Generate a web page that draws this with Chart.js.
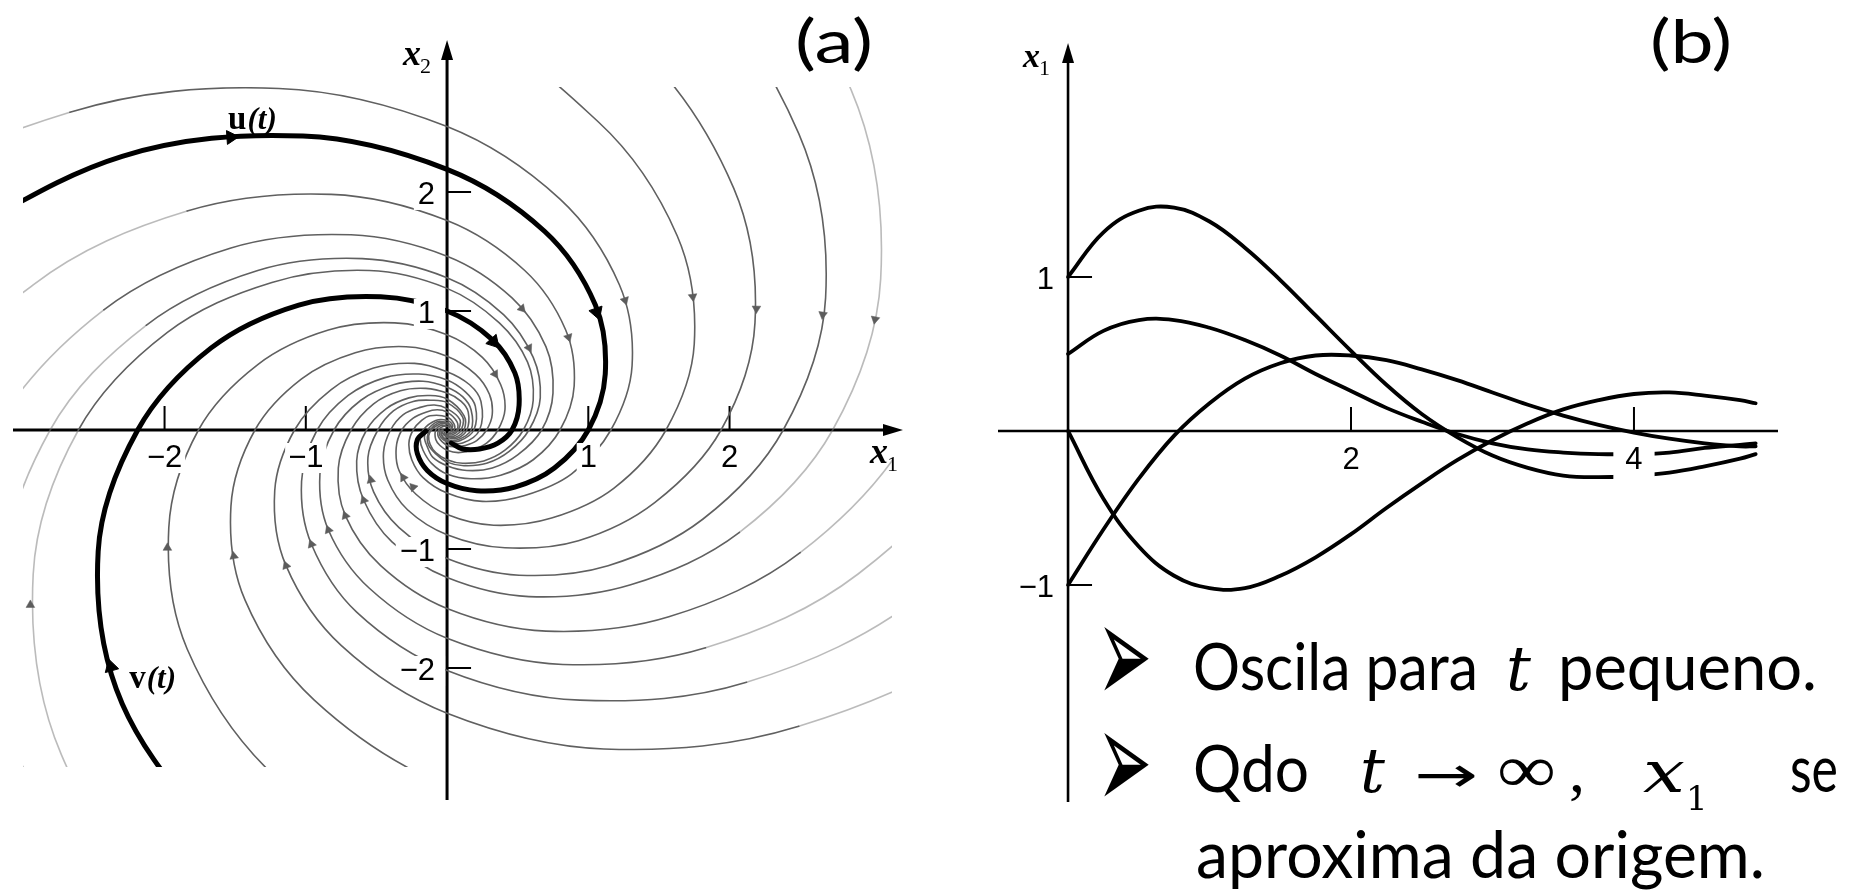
<!DOCTYPE html>
<html lang="pt">
<head>
<meta charset="utf-8">
<title>Espiral</title>
<script src="https://cdn.jsdelivr.net/npm/chart.js@4.4.1/dist/chart.umd.min.js"></script>
<style>
  html, body { margin: 0; padding: 0; background: #fff; }
  body { width: 1849px; height: 896px; position: relative; overflow: hidden; }
  canvas, svg { position: absolute; top: 0; }
  #phaseChart { left: 0; width: 930px; height: 896px; }
  #seriesChart { left: 940px; width: 909px; height: 896px; }
  #notes { left: 0; pointer-events: none; }
</style>
</head>
<body>
<canvas id="phaseChart" width="930" height="896"></canvas>
<canvas id="seriesChart" width="909" height="896"></canvas>
<svg id="notes" width="1849" height="896">
  <g font-family="Lato, sans-serif" fill="#000">
    <text x="795" y="63" font-size="60" textLength="78" lengthAdjust="spacingAndGlyphs">(a)</text>
    <text x="1650" y="63" font-size="60" textLength="82" lengthAdjust="spacingAndGlyphs">(b)</text>
    <text transform="translate(1097,704) scale(1.26,2.78)" font-family="DejaVu Sans" font-size="52">➢</text>
    <text transform="translate(1097,810) scale(1.26,2.78)" font-family="DejaVu Sans" font-size="52">➢</text>
    <text x="1193" y="690" font-size="66" textLength="285" lengthAdjust="spacingAndGlyphs">Oscila para</text>
    <text x="1506" y="690" font-size="62" font-family="DejaVu Serif" font-style="italic">t</text>
    <text x="1558" y="690" font-size="66" textLength="259" lengthAdjust="spacingAndGlyphs">pequeno.</text>
    <text x="1193" y="792" font-size="66" textLength="116" lengthAdjust="spacingAndGlyphs">Qdo</text>
    <text x="1360" y="792" font-size="62" font-family="DejaVu Serif" font-style="italic">t</text>
    <text x="1414" y="792" font-size="50" font-family="DejaVu Sans" textLength="64" lengthAdjust="spacingAndGlyphs">→</text>
    <text x="1497" y="792" font-size="68" font-family="Liberation Serif" textLength="59" lengthAdjust="spacingAndGlyphs">∞</text>
    <text x="1569" y="792" font-size="64" font-family="Liberation Serif">,</text>
    <text x="1643" y="792" font-size="58" font-family="DejaVu Serif" font-style="italic" textLength="42" lengthAdjust="spacingAndGlyphs">x</text>
    <text x="1686" y="810" font-size="34" font-family="DejaVu Serif">1</text>
    <text x="1790" y="792" font-size="66" textLength="48" lengthAdjust="spacingAndGlyphs">se</text>
    <text x="1196" y="878" font-size="66" textLength="569" lengthAdjust="spacingAndGlyphs">aproxima da origem.</text>
  </g>
</svg>
<script>
// ---- (a) phase plane: trajectories as [x1, x2] points ----
const uCurve = [
  [-3.65, 1.51], [-2.30, 2.30], [-1.02, 2.47], [0, 2.19], [0.69, 1.67],
  [1.05, 1.05], [1.12, 0.47], [1.00, 0], [0.76, -0.32], [0.48, -0.48],
  [0.21, -0.51], [0, -0.45], [-0.14, -0.34], [-0.21, -0.20], [-0.21, -0.08], [-0.15, -0.01]
];
const vCurve = [
  [-1.51, -3.65], [-2.30, -2.30], [-2.47, -1.02], [-2.19, 0], [-1.67, 0.69],
  [-1.05, 1.05], [-0.47, 1.12], [0, 1.00], [0.32, 0.76], [0.48, 0.48],
  [0.51, 0.21], [0.46, 0], [0.36, -0.11], [0.23, -0.16], [0.11, -0.16], [0.03, -0.11]
];

// gray trajectories, entering from the left edge
const trajL1 = [[-5.86, -5.86], [-5.60, 0], [-4.25, 1.76], [-2.67, 2.67], [-1.19, 2.87], [0, 2.55], [0.80, 1.94], [1.22, 1.22], [1.31, 0.54], [1.16, 0], [0.88, -0.37], [0.55, -0.55], [0.25, -0.60], [0, -0.53], [-0.17, -0.40], [-0.25, -0.25], [-0.27, -0.11], [-0.24, 0], [-0.18, 0.08], [-0.12, 0.12], [0, 0.11], [0.05, 0.05], [0.05, 0], [0.02, -0.02]];
const trajL3 = [[-4.05, -4.05], [-3.86, 0], [-2.93, 1.22], [-1.84, 1.84], [-0.82, 1.98], [0, 1.76], [0.55, 1.34], [0.84, 0.84], [0.90, 0.37], [0.80, 0], [0.61, -0.25], [0.38, -0.38], [0.17, -0.41], [0, -0.37], [-0.11, -0.28], [-0.17, -0.17], [-0.19, -0.08], [-0.17, 0], [-0.08, 0.08], [0, 0.08], [0.04, 0.04], [0.03, 0]];
const trajL4 = [[-3.36, -3.36], [-3.61, -1.49], [-3.20, 0], [-2.43, 1.01], [-1.53, 1.53], [-0.68, 1.64], [0, 1.46], [0.46, 1.11], [0.70, 0.70], [0.75, 0.31], [0.67, 0], [0.50, -0.21], [0.32, -0.32], [0.14, -0.34], [0, -0.30], [-0.10, -0.23], [-0.14, -0.14], [-0.16, -0.06], [-0.14, 0], [-0.07, 0.07], [0, 0.06], [0.03, 0.03], [0.03, 0]];
const trajL5 = [[0, -6.17], [-2.94, -2.94], [-3.16, -1.31], [-2.81, 0], [-2.13, 0.88], [-1.34, 1.34], [-0.60, 1.44], [0, 1.28], [0.40, 0.97], [0.61, 0.61], [0.66, 0.27], [0.58, 0], [0.44, -0.18], [0.28, -0.28], [0.12, -0.30], [0, -0.27], [-0.08, -0.20], [-0.13, -0.13], [-0.14, -0.06], [-0.12, 0], [-0.06, 0.06], [0, 0.06], [0.03, 0.03]];
// ... from the bottom edge
const trajB1 = [[0, -5.72], [-1.80, -4.34], [-2.73, -2.73], [-2.93, -1.21], [-2.61, 0], [-1.98, 0.82], [-1.24, 1.24], [-0.55, 1.34], [0, 1.19], [0.37, 0.90], [0.57, 0.57], [0.61, 0.25], [0.54, 0], [0.41, -0.17], [0.26, -0.26], [0.11, -0.28], [0, -0.25], [-0.08, -0.19], [-0.12, -0.12], [-0.13, -0.05], [-0.11, 0], [-0.05, 0.05], [0, 0.05], [0.02, 0.02]];
const trajB3 = [[4.04, -4.04], [0, -3.85], [-1.21, -2.92], [-1.84, -1.84], [-1.97, -0.82], [-1.76, 0], [-1.34, 0.55], [-0.84, 0.84], [-0.37, 0.90], [0, 0.80], [0.25, 0.61], [0.38, 0.38], [0.41, 0.17], [0.36, 0], [0.28, -0.11], [0.17, -0.17], [0.08, -0.19], [0, -0.17], [-0.05, -0.13], [-0.08, -0.08], [-0.08, 0], [-0.04, 0.04], [0, 0.03]];
const trajB4 = [[3.13, -3.13], [1.39, -3.36], [0, -2.99], [-0.94, -2.27], [-1.43, -1.43], [-1.53, -0.64], [-1.36, 0], [-1.03, 0.43], [-0.65, 0.65], [-0.29, 0.70], [0, 0.62], [0.20, 0.47], [0.30, 0.30], [0.32, 0.13], [0.28, 0], [0.21, -0.09], [0.13, -0.13], [0.06, -0.14], [0, -0.13], [-0.06, -0.06], [-0.06, 0], [-0.03, 0.03], [0, 0.03]];
// ... from the top edge
const trajT1 = [[-3.57, 3.57], [0, 3.41], [1.07, 2.59], [1.63, 1.63], [1.75, 0.72], [1.55, 0], [1.18, -0.49], [0.74, -0.74], [0.33, -0.80], [0, -0.71], [-0.22, -0.54], [-0.34, -0.34], [-0.36, -0.15], [-0.32, 0], [-0.24, 0.10], [-0.15, 0.15], [-0.07, 0.17], [0, 0.15], [0.07, 0.07], [0.07, 0], [0.03, -0.03], [0, -0.03]];
const trajT2 = [[-4.46, 4.46], [0, 4.26], [1.34, 3.23], [2.03, 2.03], [2.18, 0.90], [1.94, 0], [1.47, -0.61], [0.93, -0.93], [0.41, -0.99], [0, -0.88], [-0.28, -0.67], [-0.42, -0.42], [-0.45, -0.19], [-0.40, 0], [-0.31, 0.13], [-0.19, 0.19], [-0.09, 0.21], [0, 0.18], [0.09, 0.09], [0.08, 0], [0.04, -0.04], [0, -0.04]];
const trajT3 = [[-5.47, 5.47], [0, 5.22], [1.64, 3.96], [2.49, 2.49], [2.68, 1.11], [2.38, 0], [1.81, -0.75], [1.14, -1.14], [0.51, -1.22], [0, -1.08], [-0.34, -0.82], [-0.52, -0.52], [-0.56, -0.23], [-0.49, 0], [-0.38, 0.16], [-0.24, 0.24], [-0.11, 0.25], [0, 0.23], [0.11, 0.11], [0.10, 0], [0.05, -0.05], [0, -0.05], [-0.02, -0.02]];
const trajT4 = [[-6.27, 6.27], [0, 5.99], [1.89, 4.55], [2.86, 2.86], [3.07, 1.27], [2.73, 0], [2.07, -0.86], [1.30, -1.30], [0.58, -1.40], [0, -1.24], [-0.39, -0.94], [-0.59, -0.59], [-0.64, -0.26], [-0.57, 0], [-0.43, 0.18], [-0.27, 0.27], [-0.12, 0.29], [0, 0.26], [0.12, 0.12], [0.12, 0], [0.06, -0.06], [0, -0.05], [-0.03, -0.03]];
// ... from the right edge
const trajR1 = [[3.45, 3.45], [3.71, 1.53], [3.29, 0], [2.50, -1.03], [1.57, -1.57], [0.70, -1.69], [0, -1.50], [-0.47, -1.14], [-0.72, -0.72], [-0.77, -0.32], [-0.68, 0], [-0.52, 0.22], [-0.33, 0.33], [-0.15, 0.35], [0, 0.31], [0.10, 0.24], [0.15, 0.15], [0.14, 0], [0.07, -0.07], [0, -0.06], [-0.03, -0.03], [-0.03, 0]];
const trajR2 = [[4.02, 4.02], [4.32, 1.79], [3.84, 0], [2.91, -1.21], [1.83, -1.83], [0.82, -1.97], [0, -1.75], [-0.55, -1.33], [-0.84, -0.84], [-0.90, -0.37], [-0.80, 0], [-0.61, 0.25], [-0.38, 0.38], [-0.17, 0.41], [0, 0.36], [0.11, 0.28], [0.17, 0.17], [0.17, 0], [0.08, -0.08], [0, -0.08], [-0.04, -0.04], [-0.03, 0]];
const trajR3 = [[4.64, 4.64], [4.99, 2.07], [4.43, 0], [3.36, -1.39], [2.12, -2.12], [0.94, -2.27], [0, -2.02], [-0.64, -1.53], [-0.96, -0.96], [-1.03, -0.43], [-0.92, 0], [-0.70, 0.29], [-0.44, 0.44], [-0.20, 0.47], [0, 0.42], [0.13, 0.32], [0.20, 0.20], [0.19, 0], [0.09, -0.09], [0, -0.09], [-0.04, -0.04], [-0.04, 0]];
const trajR4 = [[5.47, 5.47], [5.88, 2.43], [5.22, 0], [3.96, -1.64], [2.49, -2.49], [1.11, -2.68], [0, -2.38], [-0.75, -1.81], [-1.14, -1.14], [-1.22, -0.51], [-1.08, 0], [-0.82, 0.34], [-0.52, 0.52], [-0.23, 0.56], [0, 0.49], [0.16, 0.38], [0.24, 0.24], [0.23, 0], [0.11, -0.11], [0, -0.10], [-0.05, -0.05], [-0.05, 0]];

const grayTrajectories = [trajL1, trajL3, trajL4, trajL5, trajB1, trajB3, trajB4,
  trajT1, trajT2, trajT3, trajT4, trajR1, trajR2, trajR3, trajR4];

// small arrowheads sitting on the trajectories
const grayArrowAt = [[1.26, 1.09], [1.74, 1.12], [2.19, 1.02], [2.66, 0.97], [3.03, 0.93],
  [0.86, 0.78], [0.53, 1.02], [0.58, 0.69], [0.34, 0.47], [-2.95, -1.47], [-1.98, -0.99],
  [-1.51, -1.06], [-1.14, -1.14], [-0.96, -0.96], [-0.84, -0.84], [-0.72, -0.72],
  [-0.59, -0.59], [-0.54, -0.42], [-0.31, -0.40], [-0.24, -0.48]];
const grayArrowTurn = [163, 173, 181, 188, 191, 162, 138, 153, 148, 0, 0, -10, -21, -21, -21, -21, -21, -13, -30, -42];
const boldArrowAt = [[-1.53, 2.46], [1.06, 0.99], [0.33, 0.74], [-2.38, -1.99]];
const boldArrowTurn = [86, 161, 138, -16];

const phaseTicks = [-2, -1, 1, 2];
const phaseTickLabels = ['\u22122', '\u22121', '1', '2'];
const curveNames = [{bold: 'u', rest: '(t)', at: [-1.55, 2.53]}, {bold: 'v', rest: '(t)', at: [-2.25, -2.17]}];

// ---- (b) x1 against t ----
const tSteps = [0, 0.25, 0.5, 0.75, 1, 1.25, 1.5, 1.75, 2, 2.25, 2.5, 2.75, 3, 3.25, 3.5, 3.75, 4, 4.25, 4.5, 4.75, 4.86];
const x1FromOne = [1.00, 1.29, 1.43, 1.45, 1.36, 1.19, 0.98, 0.75, 0.52, 0.30, 0.11, -0.04, -0.16, -0.24, -0.29, -0.30, -0.29, -0.27, -0.23, -0.18, -0.15];
const x1FromHalf = [0.50, 0.65, 0.72, 0.72, 0.67, 0.59, 0.49, 0.37, 0.26, 0.15, 0.06, -0.02, -0.08, -0.12, -0.14, -0.15, -0.15, -0.14, -0.11, -0.09, -0.08];
const x1FromMinusOne = [-1.00, -0.64, -0.31, -0.03, 0.18, 0.34, 0.44, 0.49, 0.49, 0.46, 0.40, 0.33, 0.25, 0.17, 0.10, 0.04, -0.01, -0.05, -0.08, -0.10, -0.10];
const x1FromZero = [0, -0.44, -0.75, -0.94, -1.02, -1.02, -0.94, -0.82, -0.67, -0.50, -0.34, -0.19, -0.06, 0.05, 0.14, 0.20, 0.24, 0.25, 0.23, 0.20, 0.18];
const tTicks = [2, 4];
const tTickLabels = ['2', '4'];
const x1Ticks = [-1, 1];
const x1TickLabels = ['\u22121', '1'];

const toXY = pts => pts.map(([x, y]) => ({x, y}));
const seriesXY = vals => vals.map((v, i) => ({x: tSteps[i], y: v}));

// axes crossing at the origin, drawn from the chart's own scales
const crossAxes = {
  id: 'crossAxes',
  beforeDatasetsDraw(chart, _args, o) {
    const {ctx, chartArea: area, scales} = chart;
    const ox = scales.x.getPixelForValue(0);
    const oy = scales.y.getPixelForValue(0);
    ctx.save();
    ctx.strokeStyle = '#000';
    ctx.fillStyle = '#000';
    ctx.lineWidth = o.lineWidth;
    ctx.beginPath();
    ctx.moveTo(area.left, oy);
    ctx.lineTo(o.arrowX ? area.right - o.arrowLen + 2 : area.right, oy);
    ctx.moveTo(ox, area.bottom);
    ctx.lineTo(ox, area.top + o.arrowLen - 2);
    ctx.stroke();

    ctx.beginPath();
    ctx.moveTo(ox, area.top);
    ctx.lineTo(ox - o.arrowHalf, area.top + o.arrowLen);
    ctx.lineTo(ox + o.arrowHalf, area.top + o.arrowLen);
    ctx.closePath();
    if (o.arrowX) {
      ctx.moveTo(area.right, oy);
      ctx.lineTo(area.right - o.arrowLen, oy - o.arrowHalf);
      ctx.lineTo(area.right - o.arrowLen, oy + o.arrowHalf);
      ctx.closePath();
    }
    ctx.fill();

    // tick marks: upward on the horizontal axis, to the right on the vertical one
    ctx.lineWidth = o.tickWidth;
    ctx.beginPath();
    o.xTicks.forEach(v => {
      const px = scales.x.getPixelForValue(v);
      ctx.moveTo(px, oy);
      ctx.lineTo(px, oy - o.tickLen);
    });
    o.yTicks.forEach(v => {
      const py = scales.y.getPixelForValue(v);
      ctx.moveTo(ox, py);
      ctx.lineTo(ox + o.tickLen, py);
    });
    ctx.stroke();
    ctx.restore();
  },
  afterDatasetsDraw(chart, _args, o) {
    const {ctx, chartArea: area, scales} = chart;
    const ox = scales.x.getPixelForValue(0);
    const oy = scales.y.getPixelForValue(0);
    const h = o.labelBox;
    ctx.save();
    ctx.font = o.tickFont;
    ctx.textBaseline = 'middle';
    o.xTicks.forEach((v, i) => {
      const px = scales.x.getPixelForValue(v);
      const py = oy + o.xLabelGap;
      const w = ctx.measureText(o.xLabels[i]).width;
      ctx.fillStyle = '#fff';
      ctx.fillRect(px - w / 2 - o.boxPad, py - h / 2, w + 2 * o.boxPad, h);
      ctx.fillStyle = '#000';
      ctx.textAlign = 'center';
      ctx.fillText(o.xLabels[i], px, py);
    });
    o.yTicks.forEach((v, i) => {
      const py = scales.y.getPixelForValue(v) + o.yLabelDrop;
      const px = ox - o.yLabelGap;
      const w = ctx.measureText(o.yLabels[i]).width;
      ctx.fillStyle = '#fff';
      ctx.fillRect(px - w - 4, py - h / 2, ox - 2 - (px - w - 4), h);
      ctx.fillStyle = '#000';
      ctx.textAlign = 'right';
      ctx.fillText(o.yLabels[i], px, py);
    });

    // axis names with a subscript
    ctx.textAlign = 'left';
    ctx.textBaseline = 'alphabetic';
    o.names.forEach(n => {
      const bx = n.end === 'top' ? ox : area.right;
      const by = n.end === 'top' ? area.top : oy;
      ctx.font = o.nameFont;
      ctx.fillText(n.base, bx + n.dx, by + n.dy);
      const w = ctx.measureText(n.base).width;
      ctx.font = o.subFont;
      ctx.fillText(n.sub, bx + n.dx + w - 1, by + n.dy + o.subDrop);
    });

    // curve names in data coordinates
    (o.curveNames || []).forEach(c => {
      const px = scales.x.getPixelForValue(c.at[0]);
      const py = scales.y.getPixelForValue(c.at[1]);
      ctx.font = 'bold 33px "Liberation Serif"';
      ctx.fillText(c.bold, px, py);
      const w = ctx.measureText(c.bold).width;
      ctx.font = 'bold italic 31px "Liberation Serif"';
      ctx.fillText(c.rest, px + w + 1, py);
    });
    ctx.restore();
  }
};

// the trajectories stop at the edge of the drawn field
const fieldClip = {left: -10, top: -47, right: -11, bottom: -33};
const fadeEdge = ctx => (Math.abs(ctx.p0.parsed.x) > 2.7 || Math.abs(ctx.p1.parsed.x) > 2.7) ? 'rgba(120,120,120,0.5)' : undefined;

const phaseDatasets = [
  {
    data: toXY(boldArrowAt), showLine: false, pointStyle: 'triangle',
    pointRadius: 8, pointRotation: boldArrowTurn,
    pointBackgroundColor: '#000', pointBorderColor: '#000', pointBorderWidth: 1, order: 0
  },
  {
    data: toXY(grayArrowAt), showLine: false, pointStyle: 'triangle',
    pointRadius: 5, pointRotation: grayArrowTurn,
    pointBackgroundColor: '#5c5c5c', pointBorderColor: '#5c5c5c', pointBorderWidth: 0.5, order: 0
  },
  {data: toXY(uCurve), borderColor: '#000', borderWidth: 5, tension: 0.35, clip: fieldClip, order: 1},
  {data: toXY(vCurve), borderColor: '#000', borderWidth: 5, tension: 0.35, clip: fieldClip, order: 1},
  ...grayTrajectories.map(tr => ({
    data: toXY(tr), borderColor: '#606060', borderWidth: 1.6, tension: 0.35,
    clip: fieldClip, order: 2, segment: {borderColor: fadeEdge}
  }))
];

new Chart(document.getElementById('phaseChart'), {
  type: 'line',
  data: {datasets: phaseDatasets},
  options: {
    responsive: false,
    animation: false,
    devicePixelRatio: 1,
    events: [],
    layout: {padding: {left: 13, top: 40, right: 27, bottom: 96}},
    elements: {
      point: {radius: 0, hitRadius: 0},
      line: {capBezierPoints: false, borderCapStyle: 'round', borderJoinStyle: 'round', fill: false}
    },
    scales: {
      x: {type: 'linear', min: -3.073, max: 3.228, display: false},
      y: {type: 'linear', min: -3.109, max: 3.277, display: false}
    },
    plugins: {
      legend: {display: false},
      tooltip: {enabled: false},
      crossAxes: {
        lineWidth: 3, arrowX: true, arrowLen: 20, arrowHalf: 6,
        tickWidth: 2, tickLen: 24,
        xTicks: phaseTicks, xLabels: phaseTickLabels,
        yTicks: phaseTicks, yLabels: phaseTickLabels,
        tickFont: '31px "Liberation Sans"', labelBox: 30, boxPad: 3,
        xLabelGap: 28, yLabelGap: 12, yLabelDrop: 3,
        nameFont: 'bold italic 36px "Liberation Serif"', subFont: '22px "Liberation Serif"', subDrop: 8,
        names: [{base: 'x', sub: '2', end: 'top', dx: -44, dy: 25}, {base: 'x', sub: '1', end: 'right', dx: -33, dy: 33}],
        curveNames: curveNames
      }
    }
  },
  plugins: [crossAxes]
});

new Chart(document.getElementById('seriesChart'), {
  type: 'line',
  data: {
    datasets: [x1FromOne, x1FromHalf, x1FromMinusOne, x1FromZero].map(vals => ({
      data: seriesXY(vals), borderColor: '#000', borderWidth: 3.8, tension: 0.4
    }))
  },
  options: {
    responsive: false,
    animation: false,
    devicePixelRatio: 1,
    events: [],
    layout: {padding: {left: 58, top: 43, right: 71, bottom: 94}},
    elements: {
      point: {radius: 0, hitRadius: 0},
      line: {borderCapStyle: 'round', borderJoinStyle: 'round', fill: false}
    },
    scales: {
      x: {type: 'linear', min: -0.495, max: 5.018, display: false},
      y: {type: 'linear', min: -2.409, max: 2.519, display: false}
    },
    plugins: {
      legend: {display: false},
      tooltip: {enabled: false},
      crossAxes: {
        lineWidth: 2.6, arrowX: false, arrowLen: 20, arrowHalf: 6,
        tickWidth: 2, tickLen: 24,
        xTicks: tTicks, xLabels: tTickLabels,
        yTicks: x1Ticks, yLabels: x1TickLabels,
        tickFont: '31px "Liberation Sans"', labelBox: 42, boxPad: 12,
        xLabelGap: 29, yLabelGap: 14, yLabelDrop: 3,
        nameFont: 'bold italic 34px "Liberation Serif"', subFont: '22px "Liberation Serif"', subDrop: 8,
        names: [{base: 'x', sub: '1', end: 'top', dx: -45, dy: 24}]
      }
    }
  },
  plugins: [crossAxes]
});
</script>
</body>
</html>
